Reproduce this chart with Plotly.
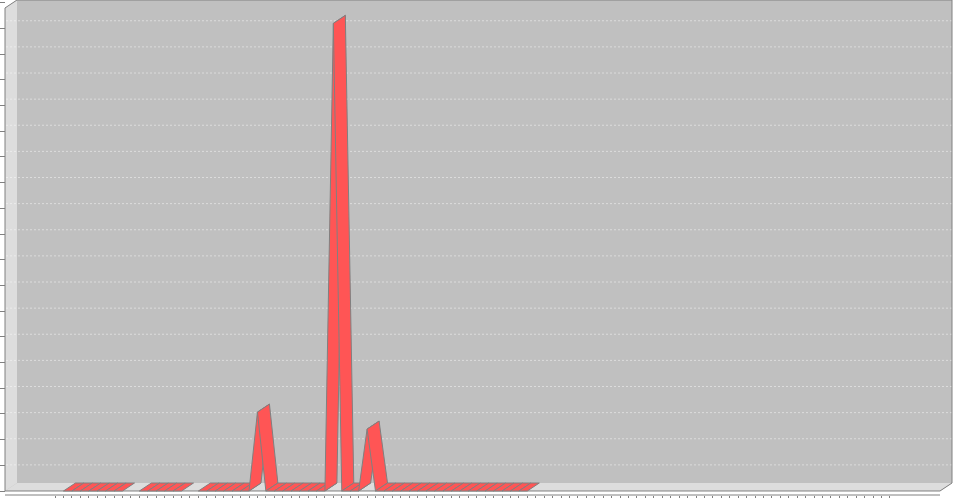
import plotly.graph_objects as go

# ---------------- data ----------------
N_CATEGORIES = 100
categories = list(range(N_CATEGORIES))
peak_index = [24, 33, 37]
peak_value = [3.02, 17.9, 2.37]
null_index = [0, 9, 16] + list(range(57, 100))

values = [0.0] * N_CATEGORIES
for i, v in zip(peak_index, peak_value):
    values[i] = v
for i in null_index:
    values[i] = None

# ---------------- geometry / style ----------------
W, H = 955, 498
FRONT_LEFT, FRONT_RIGHT = 5, 940      # front (category axis) extent, px
PLOT_RIGHT = 952                      # back wall right edge
PLOT_TOP, PLOT_BOTTOM = 0, 491        # data area top/bottom
XOFF, YOFF = 12, 8                    # 3-D depth offset, px
AXIS_Y = 495                          # category axis line
TICK_UNIT = 1.0

RED = "#FF5555"
OUTLINE = "#808080"
WALL = "#DDDDDD"
BACK = "#C0C0C0"

ymax = max(v for v in values if v is not None)
R = ymax * 1.05

# category axis mapping (JFreeChart style margins)
L = FRONT_RIGHT - FRONT_LEFT
cat_w = L * (1 - 0.05 - 0.05 - 0.2) / N_CATEGORIES
gap = L * 0.2 / (N_CATEGORIES - 1)
spacing = cat_w + gap
first_mid = FRONT_LEFT + 0.05 * L + cat_w / 2
x_range = [-first_mid / spacing, (W - first_mid) / spacing]

# value axis mapping: value 0 -> PLOT_BOTTOM, R -> PLOT_TOP
s = (PLOT_BOTTOM - PLOT_TOP) / R
y_range = [-(H - PLOT_BOTTOM) / s, R + PLOT_TOP / s]
# front (adjusted) axis for tick marks
s2 = (PLOT_BOTTOM - (PLOT_TOP + YOFF)) / R
y2_range = [-(H - PLOT_BOTTOM) / s2, R + (PLOT_TOP + YOFF) / s2]

dxu = XOFF / spacing
dyu = YOFF / s


def px(x):
    return x / W


def py(y):
    return 1 - y / H


fig = go.Figure()

# ribbon segments
for i in range(N_CATEGORIES - 1):
    a, b = values[i], values[i + 1]
    if a is None or b is None:
        continue
    xs = [i, i + 1, i + 1 + dxu, i + dxu, i]
    ys = [a, b, b + dyu, a + dyu, a]
    fig.add_trace(go.Scatter(
        x=xs, y=ys, mode="lines", fill="toself", fillcolor=RED,
        line=dict(color=OUTLINE, width=1), hoverinfo="skip", showlegend=False,
    ))

# invisible trace for the front tick axis
fig.add_trace(go.Scatter(x=[0], y=[0], yaxis="y2", mode="markers",
                         marker=dict(opacity=0), showlegend=False, hoverinfo="skip"))

shapes = []


def path(pts):
    d = "M " + " L ".join(f"{px(x):.5f},{py(y):.5f}" for x, y in pts) + " Z"
    return d


# back wall
shapes.append(dict(type="path", xref="paper", yref="paper", layer="below",
                   path=path([(FRONT_LEFT, PLOT_BOTTOM), (FRONT_LEFT, PLOT_TOP + YOFF),
                              (FRONT_LEFT + XOFF, PLOT_TOP), (PLOT_RIGHT, PLOT_TOP),
                              (PLOT_RIGHT, PLOT_BOTTOM - YOFF), (FRONT_RIGHT, PLOT_BOTTOM)]),
                   fillcolor=BACK, line=dict(width=0)))
# left wall
shapes.append(dict(type="path", xref="paper", yref="paper", layer="below",
                   path=path([(FRONT_LEFT, PLOT_BOTTOM), (FRONT_LEFT, PLOT_TOP + YOFF),
                              (FRONT_LEFT + XOFF, PLOT_TOP), (FRONT_LEFT + XOFF, PLOT_BOTTOM - YOFF)]),
                   fillcolor=WALL, line=dict(width=0)))
# floor
shapes.append(dict(type="path", xref="paper", yref="paper", layer="below",
                   path=path([(FRONT_LEFT, PLOT_BOTTOM), (FRONT_LEFT + XOFF, PLOT_BOTTOM - YOFF),
                              (PLOT_RIGHT, PLOT_BOTTOM - YOFF), (FRONT_RIGHT, PLOT_BOTTOM)]),
                   fillcolor=WALL, line=dict(width=0)))

# gridlines
k = 1
while k * TICK_UNIT < R:
    v = k * TICK_UNIT
    shapes.append(dict(type="line", xref="paper", yref="y", layer="below",
                       x0=px(FRONT_LEFT + 1), x1=px(PLOT_RIGHT), y0=v, y1=v,
                       line=dict(color="rgba(255,255,255,0.45)", width=1, dash="2px,2px")))
    k += 1

# outline
shapes.append(dict(type="path", xref="paper", yref="paper", layer="below",
                   path=path([(FRONT_LEFT, PLOT_BOTTOM), (FRONT_LEFT, PLOT_TOP + YOFF),
                              (FRONT_LEFT + XOFF, PLOT_TOP), (PLOT_RIGHT, PLOT_TOP),
                              (PLOT_RIGHT, PLOT_BOTTOM - YOFF), (FRONT_RIGHT, PLOT_BOTTOM)]),
                   fillcolor="rgba(0,0,0,0)", line=dict(color=OUTLINE, width=1)))
# category axis line
shapes.append(dict(type="line", xref="paper", yref="paper", layer="above",
                   x0=px(FRONT_LEFT), x1=px(FRONT_RIGHT), y0=py(AXIS_Y), y1=py(AXIS_Y),
                   line=dict(color=OUTLINE, width=1)))

fig.update_layout(
    width=W, height=H, margin=dict(l=0, r=0, t=0, b=0),
    paper_bgcolor="white", plot_bgcolor="rgba(0,0,0,0)",
    showlegend=False, shapes=shapes,
    xaxis=dict(range=x_range, showgrid=False, zeroline=False, showline=False,
               tickvals=categories, ticks="outside", ticklen=3, tickwidth=1,
               tickcolor=OUTLINE, showticklabels=False,
               anchor="free", position=py(AXIS_Y)),
    yaxis=dict(range=y_range, showgrid=False, zeroline=False, showline=False,
               showticklabels=False, ticks=""),
    yaxis2=dict(range=y2_range, overlaying="y", showgrid=False, zeroline=False,
                showline=False, ticks="outside", ticklen=5, tickwidth=1,
                tickcolor=OUTLINE, dtick=TICK_UNIT, tick0=0, showticklabels=False,
                anchor="free", position=px(FRONT_LEFT), side="left"),
)

fig.write_html("out.html")
